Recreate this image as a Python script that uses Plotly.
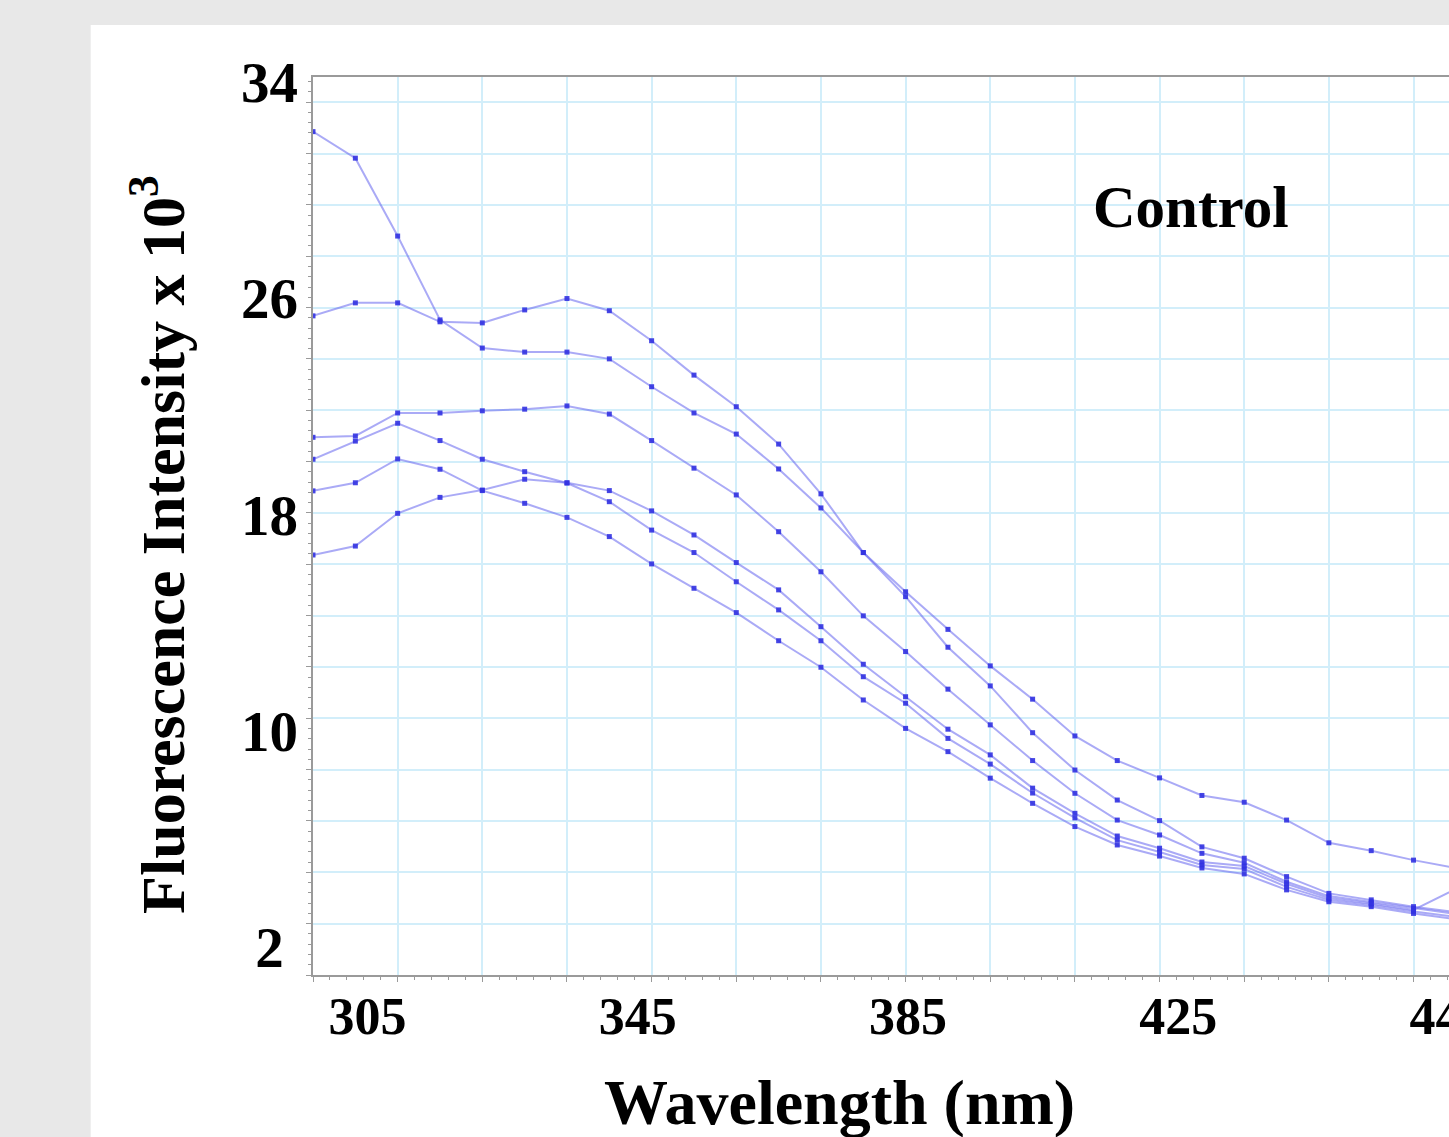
import plotly.graph_objects as go

# ---------------- data ----------------
wavelength_nm = [296.93, 303.20, 309.46, 315.73, 321.99, 328.26, 334.52, 340.79,
                 347.05, 353.32, 359.58, 365.85, 372.11, 378.38, 384.64, 390.91,
                 397.17, 403.44, 409.70, 415.97, 422.23, 428.50, 434.76, 441.03,
                 447.29, 453.56, 459.82, 466.09]

series_a = [32.16, 31.18, 28.30, 25.20, 24.16, 24.01, 24.01, 23.76, 22.73, 21.76,
            20.98, 19.69, 18.25, 16.60, 15.15, 13.76, 12.41, 11.18, 9.82, 8.91,
            8.27, 7.62, 7.37, 6.71, 5.87, 5.58, 5.23, 4.94]
series_b = [25.35, 25.83, 25.83, 25.13, 25.09, 25.57, 25.99, 25.54, 24.43, 23.16,
            21.99, 20.61, 18.77, 16.60, 14.97, 13.10, 11.67, 9.94, 8.56, 7.45,
            6.69, 5.72, 5.30, 4.62, 4.00, 3.76, 3.51, 3.31]
series_c = [20.86, 20.91, 21.76, 21.76, 21.84, 21.90, 22.02, 21.72, 20.74, 19.72,
            18.73, 17.37, 15.89, 14.26, 12.94, 11.55, 10.23, 8.91, 7.70, 6.71,
            6.16, 5.48, 5.13, 4.43, 3.90, 3.68, 3.44, 3.24]
series_d = [20.05, 20.72, 21.38, 20.74, 20.05, 19.59, 19.17, 18.48, 17.43, 16.60,
            15.52, 14.48, 13.34, 12.01, 11.03, 9.73, 8.78, 7.71, 6.79, 5.97,
            5.53, 5.05, 4.90, 4.24, 3.76, 3.57, 3.33, 3.13]
series_e = [18.88, 19.18, 20.06, 19.68, 18.89, 18.42, 17.90, 17.19, 16.18, 15.28,
            14.38, 13.34, 12.36, 11.15, 10.10, 9.24, 8.26, 7.33, 6.47, 5.79,
            5.38, 4.94, 4.72, 4.13, 3.69, 3.51, 3.26, 3.05]
series_f = [16.51, 16.84, 18.05, 18.64, 18.91, 19.31, 19.18, 18.89, 18.14, 17.25,
            16.23, 15.22, 13.86, 12.47, 11.27, 10.07, 9.12, 7.89, 6.96, 6.12,
            5.67, 5.16, 5.01, 4.35, 3.83, 3.63, 3.39, 4.16]

y_tick_values = [2, 10, 18, 26, 34]
y_tick_text = ["2\u2005", "10", "18", "26", "34"]
x_tick_values = [305, 345, 385, 425, 465]
x_tick_text = ["305", "345", "385", "425", "445"]

panel_label = "Control"
x_title = "Wavelength (nm)"
y_title = "Fluorescence Intensity x 10<sup>3</sup>"

# ---------------- styling ----------------
X_RANGE = [296.93, 465.07]
Y_RANGE = [0.983, 34.18]
GRID_DX = 12.53
GRID_DY = 1.898
FONT = "Liberation Serif, Times New Roman, serif"
LINE_COLOR = "rgba(100,100,238,0.55)"
MARK_COLOR = "rgba(50,50,225,0.9)"
GRID_COLOR = "#d2eefa"
AXIS_COLOR = "#9a9a9a"

fig = go.Figure()
for ys in [series_a, series_b, series_c, series_d, series_e, series_f]:
    fig.add_trace(go.Scatter(
        x=wavelength_nm, y=ys, mode="lines+markers",
        line=dict(color=LINE_COLOR, width=2),
        marker=dict(symbol="square", size=5, color=MARK_COLOR),
        showlegend=False, hoverinfo="skip"))

# empty trace to activate the overlay label axes
fig.add_trace(go.Scatter(x=[], y=[], xaxis="x2", yaxis="y2", showlegend=False))

fig.update_layout(
    width=1449, height=1137,
    margin=dict(l=313, r=0, t=77, b=162, pad=0),
    paper_bgcolor="#e8e8e8",
    plot_bgcolor="white",
    xaxis=dict(
        range=X_RANGE, tick0=X_RANGE[0], dtick=GRID_DX, automargin=False,
        showgrid=True, gridcolor=GRID_COLOR, gridwidth=2,
        zeroline=False, showticklabels=False,
        ticks="outside", ticklen=5, tickcolor=AXIS_COLOR, tickwidth=1,
        minor=dict(tick0=X_RANGE[0], dtick=GRID_DX / 5, ticks="outside",
                   ticklen=3, tickcolor=AXIS_COLOR, showgrid=False),
        showline=True, linecolor=AXIS_COLOR, linewidth=1.5, mirror=True,
    ),
    yaxis=dict(
        range=Y_RANGE, tick0=Y_RANGE[0], dtick=GRID_DY, automargin=False,
        showgrid=True, gridcolor=GRID_COLOR, gridwidth=2,
        zeroline=False, showticklabels=False,
        ticks="outside", ticklen=5, tickcolor=AXIS_COLOR, tickwidth=1,
        minor=dict(tick0=Y_RANGE[0], dtick=GRID_DY / 5, ticks="outside",
                   ticklen=3, tickcolor=AXIS_COLOR, showgrid=False),
        showline=True, linecolor=AXIS_COLOR, linewidth=1.5, mirror=False,
    ),
    xaxis2=dict(
        overlaying="x", anchor="y2", side="bottom", range=X_RANGE,
        automargin=False,
        tickmode="array", tickvals=x_tick_values, ticktext=x_tick_text,
        showgrid=False, zeroline=False, showline=False, ticks="",
        ticklabelstandoff=6, ticklabeloverflow="allow",
        tickfont=dict(family=FONT, size=52, color="black", weight="bold"),
    ),
    yaxis2=dict(
        overlaying="y", anchor="x2", side="left", range=Y_RANGE,
        automargin=False,
        tickmode="array", tickvals=y_tick_values, ticktext=y_tick_text,
        showgrid=False, zeroline=False, showline=False, ticks="",
        ticklabelstandoff=14,
        tickfont=dict(family=FONT, size=57, color="black", weight="bold"),
    ),
    shapes=[dict(type="rect", xref="paper", yref="paper",
                 x0=-0.1957, x1=1.01, y0=-0.25, y1=1.0579,
                 fillcolor="white", line=dict(width=0), layer="below")],
    annotations=[
        dict(text=panel_label, xref="paper", yref="paper", x=0.773, y=0.855,
             xanchor="center", yanchor="middle", showarrow=False,
             font=dict(family=FONT, size=59, color="black", weight="bold")),
        dict(text=x_title, xref="paper", yref="paper", x=0.4639, y=-0.1425,
             xanchor="center", yanchor="middle", showarrow=False,
             font=dict(family=FONT, size=64, color="black", weight="bold")),
        dict(text=y_title, xref="paper", yref="paper", x=-0.1365, y=0.48,
             xanchor="center", yanchor="middle", showarrow=False, textangle=-90,
             font=dict(family=FONT, size=62, color="black", weight="bold")),
    ],
)

fig.write_html("out.html")
